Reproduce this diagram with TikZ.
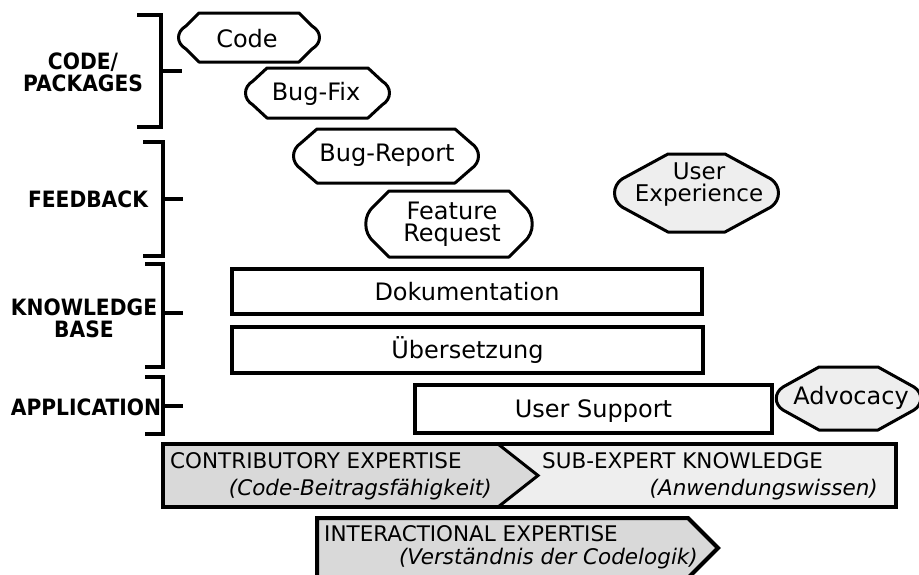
\documentclass[tikz,border=0pt]{standalone}
\usepackage{fontspec}
\setmainfont{DejaVu Sans}
\newfontfamily\labfont[FakeStretch=0.9]{DejaVu Sans}
\definecolor{darkfill}{HTML}{D9D9D9}
\definecolor{lightfill}{HTML}{EEEEEE}
% #1 x0, #2 y0, #3 x1, #4 y1, #5 chamfer x, #6 chamfer y, #7 bulge, #8 style
\newcommand\octoshape[8]{%
  \draw[#8] (#1+#5,#2) -- (#3-#5,#2) -- (#3,#2+#6)
    .. controls (#3+#7,{#2+#6+(#4-#2-2*#6)/4}) and (#3+#7,{#4-#6-(#4-#2-2*#6)/4}) .. (#3,#4-#6)
    -- (#3-#5,#4) -- (#1+#5,#4) -- (#1,#4-#6)
    .. controls (#1-#7,{#4-#6-(#4-#2-2*#6)/4}) and (#1-#7,{#2+#6+(#4-#2-2*#6)/4}) .. (#1,#2+#6)
    -- cycle;}
\tikzset{
  txt/.style={font=\fontsize{24}{24}\selectfont, inner sep=0pt, align=center},
  shp/.style={draw=black, line width=3pt, line join=round, fill=white},
  shpgray/.style={shp, fill=lightfill},
  boxst/.style={draw=black, line width=4pt, fill=white, inner sep=0pt,
    font=\fontsize{24}{24}\selectfont, text height=17pt, text depth=0pt},
  brk/.style={draw=black, line width=4pt, line join=miter},
  lab/.style={font=\labfont\bfseries\fontsize{22.5}{21.5}\selectfont, align=center, inner sep=0pt},
  band/.style={draw=black, line width=4pt, line join=miter},
  bt/.style={font=\fontsize{21.5}{22}\selectfont, inner sep=0pt},
}
\begin{document}
\begin{tikzpicture}[x=1pt,y=-1pt]
\path[use as bounding box] (0,0) rectangle (919,574);
\clip (0,0) rectangle (919,574);

% ---- brackets and labels
\draw[brk] (137,15) -- (161,15) -- (161,127) -- (137,127);
\draw[brk] (161,71) -- (182,71);
\node[lab] (codepk) at (83,72.5) {CODE/\\PACKAGES};

\draw[brk] (143,142) -- (163,142) -- (163,256) -- (143,256);
\draw[brk] (163,199) -- (183,199);
\node[lab] (feedb) at (88,199) {FEEDBACK};

\draw[brk] (145,264) -- (163,264) -- (163,367) -- (145,367);
\draw[brk] (163,313) -- (183,313);
\node[lab] (kb) at (84,318.5) {KNOWLEDGE\\BASE};

\draw[brk] (145,377) -- (163,377) -- (163,434) -- (145,434);
\draw[brk] (163,406) -- (183,406);
\node[lab] (appl) at (86,407) {APPLICATION};

% ---- octagonal nodes
\octoshape{186}{13}{312}{62}{13}{13}{10}{shp}
\node[txt, anchor=base] (code) at (247,47) {Code};

\octoshape{253}{68}{382}{118}{14}{13}{10}{shp}
\node[txt, anchor=base] (bugfix) at (316,100) {Bug-Fix};

\octoshape{301}{129}{471}{183}{16}{14}{10}{shp}
\node[txt, anchor=base] (bugrep) at (387,161) {Bug-Report};

\octoshape{374}{191}{524}{257}{15}{15}{11}{shp}
\node[txt, font=\fontsize{24}{22}\selectfont] (featreq) at (452,224.5) {Feature\\Request};

\octoshape{622}{154}{771}{232}{46}{25}{10}{shpgray}
\node[txt, font=\fontsize{23}{22}\selectfont] (ux) at (699,185) {User\\Experience};

\octoshape{783}{367}{914}{430}{36}{20}{9}{shpgray}
\node[txt, anchor=base] (advo) at (851,404) {Advocacy};

% ---- rectangular nodes
\node[boxst, minimum width=470pt, minimum height=45pt] (doku) at (467,291.5) {Dokumentation};
\node[boxst, minimum width=471pt, minimum height=46pt] (uebers) at (467.5,350) {Übersetzung};
\node[boxst, minimum width=357pt, minimum height=48pt] (usup) at (593.5,409) {User Support};

% ---- bottom bands
\fill[darkfill] (163,444) -- (498,444) -- (538,475.5) -- (498,507) -- (163,507) -- cycle;
\fill[lightfill] (498,444) -- (896,444) -- (896,507) -- (498,507) -- (538,475.5) -- cycle;
\draw[band] (163,444) rectangle (896,507);
\draw[line width=3pt, line join=miter] (498,444) -- (538,475.5) -- (498,507);
\node[bt, anchor=base west] (contrib) at (170,468) {CONTRIBUTORY EXPERTISE};
\node[bt, anchor=base east] (contribsub) at (492,495) {\itshape (Code-Beitragsfähigkeit)};
\node[bt, anchor=base west] (subexp) at (542,468) {SUB-EXPERT KNOWLEDGE};
\node[bt, anchor=base east] (subexpsub) at (878,495) {\itshape (Anwendungswissen)};

\draw[band, fill=darkfill] (317,518) -- (688,518) -- (718,548) -- (688,578) -- (317,578) -- cycle;
\node[bt, anchor=base west] (inter) at (324,541) {INTERACTIONAL EXPERTISE};
\node[bt, anchor=base east] (intersub) at (698,564) {\itshape (Verständnis der Codelogik)};
\end{tikzpicture}
\end{document}
